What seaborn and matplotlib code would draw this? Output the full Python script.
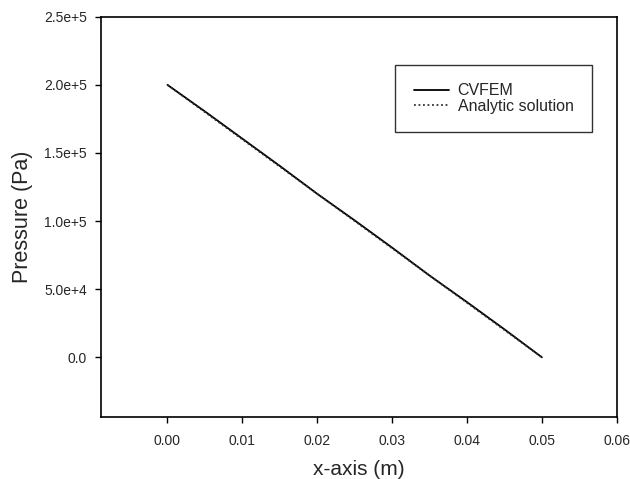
import matplotlib
matplotlib.use("Agg")
import matplotlib.pyplot as plt
import seaborn as sns
import pandas as pd

# Pressure along the channel: numerical (CVFEM) vs analytic solution
x_m = [0.000, 0.005, 0.010, 0.015, 0.020, 0.025, 0.030, 0.035, 0.040, 0.045, 0.050]
p_cvfem = [200000, 180500, 160500, 140500, 120000, 100500, 80500, 60000, 40500, 20500, 0]
p_analytic = [200000, 180000, 160000, 140000, 120000, 100000, 80000, 60000, 40000, 20000, 0]

xticks = [0.00, 0.01, 0.02, 0.03, 0.04, 0.05, 0.06]
xtick_labels = ["0.00", "0.01", "0.02", "0.03", "0.04", "0.05", "0.06"]
yticks = [0, 50000, 100000, 150000, 200000, 250000]
ytick_labels = ["0.0", "5.0e+4", "1.0e+5", "1.5e+5", "2.0e+5", "2.5e+5"]

df = pd.concat([
    pd.DataFrame({"x": x_m, "p": p_cvfem, "series": "CVFEM"}),
    pd.DataFrame({"x": x_m, "p": p_analytic, "series": "Analytic solution"}),
])

sns.set_style("white")
plt.rcParams["font.family"] = ["Liberation Sans", "DejaVu Sans"]

fig = plt.figure(figsize=(6.30, 4.79), dpi=100)
ax = fig.add_axes([0.160, 0.129, 0.819, 0.836])

sns.lineplot(data=df, x="x", y="p", style="series", hue="series",
             palette={"CVFEM": "black", "Analytic solution": "#333333"},
             dashes={"CVFEM": "", "Analytic solution": (1, 1.5)},
             linewidth=1.3, ax=ax)

ax.set_xlim(-0.0089, 0.06)
ax.set_ylim(-44000, 250000)
ax.set_xticks(xticks)
ax.set_xticklabels(xtick_labels)
ax.set_yticks(yticks)
ax.set_yticklabels(ytick_labels)
ax.tick_params(axis="both", direction="out", length=4, width=1, color="black",
               labelsize=10, bottom=True, left=True, top=False, right=False)
ax.tick_params(axis="x", pad=8)
ax.tick_params(axis="y", pad=6)
for s in ax.spines.values():
    s.set_visible(True)
    s.set_color("black")
    s.set_linewidth(1.2)

ax.set_xlabel("x-axis (m)", fontsize=15, labelpad=9)
ax.set_ylabel("Pressure (Pa)", fontsize=15.5, labelpad=8)

leg = ax.legend(title=None, loc="upper right", bbox_to_anchor=(0.9516, 0.88),
                fontsize=11.5, frameon=True, fancybox=False, edgecolor="black",
                handlelength=2.2, borderpad=1.15, labelspacing=0.05, handletextpad=0.55,
                borderaxespad=0)
leg.get_frame().set_linewidth(1.0)

fig.savefig("out.png", dpi=100, facecolor="white")
